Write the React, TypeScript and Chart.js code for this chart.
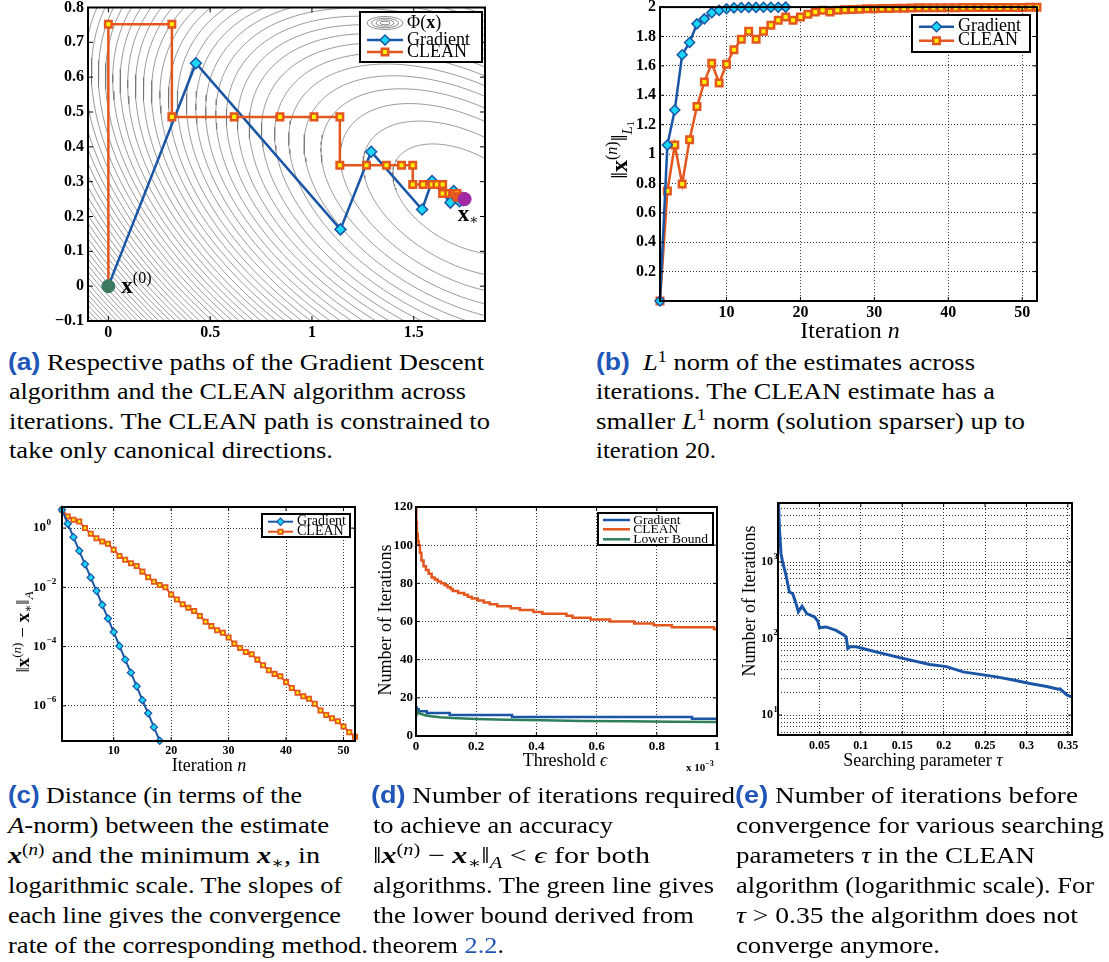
import React, { useEffect, useLayoutEffect, useRef } from 'react';
import { Chart, registerables } from 'chart.js';

Chart.register(...registerables);

// ---------- styling ----------
const SERIF = '"Liberation Serif", "DejaVu Serif", "Times New Roman", serif';
const SANS = '"Liberation Sans", "DejaVu Sans", Arial, sans-serif';
const BLUE = '#1b56a6';
const CYAN = '#1ad6f7';
const ORANGE = '#e3561e';
const YELLOW = '#fff200';
const GREEN_LINE = '#2e7d5b';
const START_GREEN = '#3b7a5e';
const END_PURPLE = '#a02aa6';
const CONTOUR_GRAY = '#6e6e6e';
const GRID = 'rgba(0,0,0,0.8)';
const LINK_BLUE = '#2156b8';

const font = (size: number, style = '') => `${style} ${size}px ${SERIF}`.trim();

// ---------- (a) paths in the plane ----------
const PHI_MATRIX = [
  [1, 0.989],
  [0.989, 4.968],
];
const X_STAR = [1.75, 0.25];
const START = [0, 0];
const CONTOUR_LEVELS = [
  0.05, 0.1, 0.15, 0.2, 0.25, 0.3, 0.35, 0.4, 0.45, 0.5, 0.55, 0.6, 0.65, 0.7, 0.75, 0.8, 0.85, 0.9,
  0.95, 1.0, 1.05, 1.1, 1.15, 1.2, 1.25, 1.3, 1.35, 1.4, 1.45, 1.5, 1.55, 1.6, 1.65, 1.7, 1.75, 1.8,
  1.85, 1.9, 1.95, 2.0, 2.05, 2.1, 2.15, 2.2, 2.25, 2.3, 2.35, 2.4, 2.45, 2.5, 2.55, 2.6, 2.65, 2.7,
];
const GD_PATH_X = [0, 0.43, 1.14, 1.291, 1.541, 1.59, 1.68, 1.696, 1.725, 1.737, 1.742, 1.746, 1.748, 1.749, 1.7495, 1.7498, 1.7499, 1.75];
const GD_PATH_Y = [0, 0.64, 0.163, 0.386, 0.22, 0.302, 0.24, 0.273, 0.244, 0.254, 0.247, 0.2515, 0.2492, 0.2504, 0.2498, 0.2501, 0.25, 0.25];
const CLEAN_PATH_X = [
  0, 0, 0.312, 0.312, 0.618, 0.843, 1.01, 1.137, 1.137, 1.268, 1.366, 1.44, 1.495, 1.495, 1.546, 1.59,
  1.614, 1.642, 1.642, 1.672, 1.69, 1.7, 1.712, 1.712, 1.722, 1.728, 1.733, 1.736, 1.736, 1.739, 1.741,
  1.743, 1.743, 1.745, 1.746, 1.747, 1.747, 1.748, 1.7485, 1.749, 1.749, 1.7493, 1.7495, 1.7497, 1.7497,
  1.7498, 1.7499, 1.7499, 1.7499, 1.75, 1.75, 1.75,
];
const CLEAN_PATH_Y = [
  0, 0.752, 0.752, 0.486, 0.486, 0.486, 0.486, 0.486, 0.347, 0.347, 0.347, 0.347, 0.347, 0.292, 0.292,
  0.292, 0.292, 0.292, 0.266, 0.266, 0.266, 0.266, 0.266, 0.256, 0.256, 0.256, 0.256, 0.256, 0.2535,
  0.2535, 0.2535, 0.2535, 0.2518, 0.2518, 0.2518, 0.2518, 0.2509, 0.2509, 0.2509, 0.2509, 0.2504, 0.2504,
  0.2504, 0.2504, 0.2502, 0.2502, 0.2502, 0.2501, 0.2501, 0.2501, 0.25, 0.25,
];
const A_X_TICKS = [0, 0.5, 1, 1.5];
const A_Y_TICKS = [-0.1, 0, 0.1, 0.2, 0.3, 0.4, 0.5, 0.6, 0.7, 0.8];

// ---------- (b) L1 norm per iteration ----------
const GD_ITER = Array.from({ length: 18 }, (_, i) => i + 1);
const CLEAN_ITER = Array.from({ length: 52 }, (_, i) => i + 1);
const B_GD_L1 = [0, 1.062, 1.3, 1.676, 1.759, 1.886, 1.92, 1.962, 1.978, 1.989, 1.995, 1.997, 1.998, 1.998, 1.999, 1.999, 1.999, 2.0];
const B_CLEAN_L1 = [
  0, 0.749, 1.062, 0.796, 1.098, 1.323, 1.491, 1.618, 1.484, 1.611, 1.71, 1.781, 1.835, 1.781, 1.835,
  1.877, 1.911, 1.933, 1.911, 1.933, 1.951, 1.966, 1.978, 1.966, 1.978, 1.982, 1.984, 1.986, 1.988, 1.989,
  1.99, 1.991, 1.992, 1.993, 1.994, 1.995, 1.995, 1.995, 1.996, 1.996, 1.996, 1.997, 1.997, 1.997, 1.997,
  1.998, 1.998, 1.998, 1.998, 1.998, 1.999, 1.999,
];
const B_X_TICKS = [10, 20, 30, 40, 50];
const B_Y_TICKS = [0.2, 0.4, 0.6, 0.8, 1, 1.2, 1.4, 1.6, 1.8, 2];

// ---------- (c) A-norm distance to the minimum ----------
const C_GD_ERR = [
  4.17, 1.4, 0.495, 0.171, 0.0603, 0.0214, 7.6e-3, 2.57e-3, 8.9e-4, 3.09e-4, 1.05e-4, 3.63e-5, 1.32e-5,
  4.57e-6, 1.55e-6, 5.6e-7, 1.9e-7, 6.6e-8,
];
const C_CLEAN_ERR = [
  4.17, 2.48, 1.91, 1.68, 1.0, 0.646, 0.457, 0.355, 0.295, 0.186, 0.115, 0.0851, 0.0646, 0.0525, 0.0339,
  0.0219, 0.0155, 0.012, 0.01, 5.75e-3, 3.89e-3, 2.69e-3, 2.04e-3, 1.58e-3, 1.07e-3, 6.92e-4, 4.9e-4,
  3.55e-4, 2.95e-4, 2.04e-4, 1.26e-4, 8.91e-5, 6.61e-5, 5.5e-5, 3.63e-5, 2.34e-5, 1.58e-5, 1.2e-5, 1.0e-5,
  6.31e-6, 3.98e-6, 2.75e-6, 2.09e-6, 1.74e-6, 1.17e-6, 6.92e-7, 4.9e-7, 3.8e-7, 3.02e-7, 2.0e-7, 1.29e-7,
  9.1e-8,
];
const C_X_TICKS = [10, 20, 30, 40, 50];
const C_Y_EXP = [0, -2, -4, -6];

// ---------- (d) iterations needed for a threshold (epsilon in units of 1e-3) ----------
const D_GD_EPS = [0, 0.003, 0.009, 0.036, 0.112, 0.319, 0.917, 1.0];
const D_GD_N = [15, 14, 13, 12, 11, 10, 9, 9];
const D_CLEAN_EPS = [
  0, 0.001, 0.003, 0.006, 0.009, 0.013, 0.018, 0.025, 0.033, 0.042, 0.052, 0.062, 0.072, 0.083, 0.095,
  0.105, 0.115, 0.122, 0.14, 0.16, 0.172, 0.185, 0.205, 0.225, 0.245, 0.27, 0.315, 0.345, 0.39, 0.42, 0.5,
  0.52, 0.58, 0.645, 0.725, 0.79, 0.85, 0.99, 1.0,
];
const D_CLEAN_N = [
  120, 112, 106, 102, 100, 96, 92, 89, 87, 85, 83, 82, 81, 80, 79, 78, 77, 76, 75, 74, 73, 72, 71, 70, 69,
  68, 67, 66, 65, 64, 63, 62, 61, 60, 59, 58, 57, 56, 56,
];
const D_LB_EPS = [0.0005, 0.003, 0.008, 0.015, 0.03, 0.05, 0.08, 0.12, 0.2, 0.3, 0.42, 0.55, 0.7, 0.85, 1.0];
const D_LB_N = [14.2, 13.2, 12.3, 11.6, 10.9, 10.3, 9.8, 9.4, 8.9, 8.5, 8.2, 7.9, 7.7, 7.5, 7.3];
const D_X_TICKS = [0, 0.2, 0.4, 0.6, 0.8, 1];
const D_Y_TICKS = [0, 20, 40, 60, 80, 100, 120];

// ---------- (e) iterations versus searching parameter ----------
const E_TAU = [
  0.0005, 0.0016, 0.0036, 0.0056, 0.0097, 0.0137, 0.0177, 0.0197, 0.0218, 0.0246, 0.029, 0.0347, 0.044,
  0.048, 0.05, 0.058, 0.0702, 0.0803, 0.0823, 0.0843, 0.0872, 0.0944, 0.1105, 0.1429, 0.1832, 0.2034,
  0.2235, 0.2639, 0.284, 0.3042, 0.3245, 0.3385, 0.3406, 0.3487, 0.3547,
];
const E_ITER = [
  6500, 2860, 1284, 1000, 670, 406, 387, 333, 286, 223, 264, 212, 192, 170, 139, 142, 128, 110, 105, 74,
  78, 78, 70.5, 57.7, 45.8, 43, 36.7, 31.6, 28.8, 25.9, 23.6, 21.8, 22, 18.4, 17.3,
];
const E_X_TICKS = [0.05, 0.1, 0.15, 0.2, 0.25, 0.3, 0.35];
const E_Y_GRID = [6, 7, 8, 9, 10, 20, 30, 40, 50, 60, 70, 80, 90, 100, 200, 300, 400, 500, 600, 700, 800, 900, 1000, 2000, 3000, 4000, 5000];
const E_Y_EXP = [1, 2, 3];

// ---------- helpers ----------
type Pt = { x: number; y: number };
type Seg = { t: string; font: string; dy?: number };

const zip = (xs: number[], ys: number[]): Pt[] => xs.map((x, i) => ({ x, y: ys[i] }));

const fmtNum = (v: number) => {
  const s = String(Math.round(v * 1000) / 1000);
  return s.startsWith('-') ? '\u2212' + s.slice(1) : s;
};

// level set of 0.5 (x - x*)^T A (x - x*) = level
function ellipsePoints(level: number): Pt[] {
  const [[a, b], [, d]] = PHI_MATRIX;
  const half = (a + d) / 2;
  const disc = Math.sqrt(half * half - (a * d - b * b));
  const l1 = half + disc;
  const l2 = half - disc;
  const n = Math.hypot(b, l1 - a);
  const u = [b / n, (l1 - a) / n];
  const v = [-u[1], u[0]];
  const r1 = Math.sqrt((2 * level) / l1);
  const r2 = Math.sqrt((2 * level) / l2);
  const pts: Pt[] = [];
  for (let k = 0; k <= 180; k++) {
    const t = (k / 180) * 2 * Math.PI;
    const c = Math.cos(t) * r1;
    const s = Math.sin(t) * r2;
    pts.push({ x: X_STAR[0] + c * u[0] + s * v[0], y: X_STAR[1] + c * u[1] + s * v[1] });
  }
  return pts;
}

function segsWidth(ctx: CanvasRenderingContext2D, segs: Seg[]) {
  let w = 0;
  for (const s of segs) {
    ctx.font = s.font;
    w += ctx.measureText(s.t).width;
  }
  return w;
}

function drawSegs(ctx: CanvasRenderingContext2D, segs: Seg[], x: number, y: number, align = 'left') {
  const w = segsWidth(ctx, segs);
  let cx = align === 'center' ? x - w / 2 : align === 'right' ? x - w : x;
  ctx.textAlign = 'left';
  ctx.fillStyle = '#000';
  for (const s of segs) {
    ctx.font = s.font;
    ctx.fillText(s.t, cx, y + (s.dy || 0));
    cx += ctx.measureText(s.t).width;
  }
}

function drawSegsUp(ctx: CanvasRenderingContext2D, segs: Seg[], baseX: number, centerY: number) {
  ctx.save();
  ctx.translate(baseX, centerY);
  ctx.rotate(-Math.PI / 2);
  ctx.textBaseline = 'alphabetic';
  drawSegs(ctx, segs, 0, 0, 'center');
  ctx.restore();
}

function pow10(ctx: CanvasRenderingContext2D, xRight: number, y: number, exp: number, size: number) {
  ctx.fillStyle = '#000';
  ctx.textBaseline = 'middle';
  ctx.textAlign = 'right';
  ctx.font = font(size, 'bold');
  ctx.fillText('10', xRight, y);
  ctx.textAlign = 'left';
  ctx.font = font(size * 0.7, 'bold');
  ctx.fillText(exp < 0 ? '\u2212' + -exp : String(exp), xRight + 0.5, y - size * 0.45);
}

function marker(ctx: CanvasRenderingContext2D, kind: string, x: number, y: number, r: number, fill: string, stroke: string, lw: number) {
  ctx.save();
  ctx.beginPath();
  if (kind === 'diamond') {
    ctx.moveTo(x - r, y);
    ctx.lineTo(x, y - r);
    ctx.lineTo(x + r, y);
    ctx.lineTo(x, y + r);
    ctx.closePath();
  } else {
    const s = r * Math.SQRT1_2;
    ctx.rect(x - s, y - s, 2 * s, 2 * s);
  }
  ctx.fillStyle = fill;
  ctx.fill();
  ctx.lineWidth = lw;
  ctx.strokeStyle = stroke;
  ctx.stroke();
  ctx.restore();
}

function legendFrame(ctx: CanvasRenderingContext2D, x: number, y: number, w: number, h: number) {
  ctx.save();
  ctx.fillStyle = '#fff';
  ctx.fillRect(x, y, w, h);
  ctx.lineWidth = 2;
  ctx.strokeStyle = '#000';
  ctx.strokeRect(x, y, w, h);
  ctx.restore();
}

function lineIcon(ctx: CanvasRenderingContext2D, x0: number, x1: number, y: number, color: string, lw: number) {
  ctx.save();
  ctx.strokeStyle = color;
  ctx.lineWidth = lw;
  ctx.beginPath();
  ctx.moveTo(x0, y);
  ctx.lineTo(x1, y);
  ctx.stroke();
  ctx.restore();
}

function contourIcon(ctx: CanvasRenderingContext2D, cx: number, cy: number) {
  ctx.save();
  ctx.strokeStyle = CONTOUR_GRAY;
  ctx.lineWidth = 0.8;
  for (const [rx, ry] of [[18, 6.5], [13.5, 4.8], [9, 3.2], [5, 1.8]]) {
    ctx.beginPath();
    ctx.ellipse(cx, cy, rx, ry, 0, 0, 2 * Math.PI);
    ctx.stroke();
  }
  ctx.restore();
}

function legendText(ctx: CanvasRenderingContext2D, segs: Seg[], x: number, y: number) {
  ctx.save();
  ctx.textBaseline = 'middle';
  drawSegs(ctx, segs, x, y);
  ctx.restore();
}

// axis box, inward ticks and any extra drawing on top of the datasets
function decor(tickLen: number, draw: (chart: any, ctx: CanvasRenderingContext2D) => void, yTickValues?: number[]) {
  return {
    id: 'decor',
    afterDatasetsDraw(chart: any) {
      const { ctx, chartArea: a, scales } = chart;
      ctx.save();
      ctx.strokeStyle = '#000';
      ctx.lineWidth = 1;
      ctx.beginPath();
      for (const t of scales.x.ticks) {
        const p = scales.x.getPixelForValue(t.value);
        ctx.moveTo(p, a.bottom);
        ctx.lineTo(p, a.bottom - tickLen);
        ctx.moveTo(p, a.top);
        ctx.lineTo(p, a.top + tickLen);
      }
      const yv = yTickValues ?? scales.y.ticks.map((t: any) => t.value);
      for (const v of yv) {
        const p = scales.y.getPixelForValue(v);
        ctx.moveTo(a.left, p);
        ctx.lineTo(a.left + tickLen, p);
        ctx.moveTo(a.right, p);
        ctx.lineTo(a.right - tickLen, p);
      }
      ctx.stroke();
      ctx.lineWidth = 2;
      ctx.strokeRect(a.left, a.top, a.right - a.left, a.bottom - a.top);
      ctx.restore();
      ctx.save();
      draw(chart, ctx);
      ctx.restore();
    },
  };
}

function axis(o: {
  type?: string; min: number; max: number; ticks: number[]; side: 'x' | 'y'; size: number;
  fontSize: number; pad: number; grid: boolean; labels?: boolean;
}) {
  return {
    type: o.type ?? 'linear',
    position: o.side === 'x' ? 'bottom' : 'left',
    min: o.min,
    max: o.max,
    afterBuildTicks: (s: any) => {
      s.ticks = o.ticks.map((v) => ({ value: v }));
    },
    afterFit: (s: any) => {
      if (o.side === 'x') s.height = o.size;
      else s.width = o.size;
      s.paddingLeft = 0;
      s.paddingRight = 0;
      s.paddingTop = 0;
      s.paddingBottom = 0;
    },
    ticks: {
      display: o.labels !== false,
      autoSkip: false,
      maxRotation: 0,
      minRotation: 0,
      padding: o.pad,
      color: '#000',
      font: { family: SERIF, size: o.fontSize, weight: 'bold' },
      callback: (v: number) => fmtNum(v),
    },
    grid: { display: o.grid, color: GRID, lineWidth: 1, drawTicks: false },
    border: { display: false, dash: [1, 2] },
  };
}

function base(W: number, T: number, R: number, scales: any) {
  return {
    responsive: false,
    animation: false,
    events: [],
    layout: { padding: { left: 0, top: T, right: W - R, bottom: 0 } },
    plugins: { legend: { display: false }, tooltip: { enabled: false } },
    scales,
  };
}

const gradientStyle = (r: number, bw: number, lw: number) => ({
  showLine: true,
  borderColor: BLUE,
  borderWidth: lw,
  pointStyle: 'rectRot',
  pointRadius: r,
  pointBackgroundColor: CYAN,
  pointBorderColor: BLUE,
  pointBorderWidth: bw,
});

const cleanStyle = (r: number, bw: number, lw: number) => ({
  showLine: true,
  borderColor: ORANGE,
  borderWidth: lw,
  pointStyle: 'rect',
  pointRadius: r,
  pointBackgroundColor: YELLOW,
  pointBorderColor: ORANGE,
  pointBorderWidth: bw,
});

// ---------- chart builders ----------
function makePathChart() {
  const W = 500, H = 345, L = 88, T = 7, R = 485, B = 321;
  const contours = CONTOUR_LEVELS.map((lv) => ({
    data: ellipsePoints(lv),
    showLine: true,
    borderColor: CONTOUR_GRAY,
    borderWidth: 0.7,
    pointRadius: 0,
    order: 20,
  }));
  return {
    type: 'scatter',
    data: {
      datasets: [
        ...contours,
        { data: zip(GD_PATH_X, GD_PATH_Y), ...gradientStyle(5.5, 1.5, 2.5), order: 3 },
        { data: zip(CLEAN_PATH_X, CLEAN_PATH_Y), ...cleanStyle(4.6, 2.5, 2.5), order: 2 },
        { data: [{ x: START[0], y: START[1] }], pointRadius: 6.5, pointBackgroundColor: START_GREEN, pointBorderColor: START_GREEN, order: 1 },
        { data: [{ x: X_STAR[0], y: X_STAR[1] }], pointRadius: 6.5, pointBackgroundColor: END_PURPLE, pointBorderColor: END_PURPLE, order: 1 },
      ],
    },
    options: base(W, T, R, {
      x: axis({ min: -0.1, max: 1.85, ticks: A_X_TICKS, side: 'x', size: H - B, fontSize: 16, pad: 2, grid: false }),
      y: axis({ min: -0.1, max: 0.8, ticks: A_Y_TICKS, side: 'y', size: L, fontSize: 16, pad: 4, grid: false }),
    }),
    plugins: [
      decor(5, (chart, ctx) => {
        const xs = chart.scales.x;
        const ys = chart.scales.y;
        legendFrame(ctx, 360, 12, 122, 50);
        contourIcon(ctx, 385, 23);
        lineIcon(ctx, 367, 403, 40, BLUE, 2.5);
        marker(ctx, 'diamond', 385, 40, 5, CYAN, BLUE, 1.5);
        lineIcon(ctx, 367, 403, 52, ORANGE, 2.5);
        marker(ctx, 'square', 385, 52, 4.6, YELLOW, ORANGE, 2.5);
        legendText(ctx, [{ t: '\u03A6(', font: font(18) }, { t: 'x', font: font(18, 'bold') }, { t: ')', font: font(18) }], 407, 23);
        legendText(ctx, [{ t: 'Gradient', font: font(18) }], 407, 40);
        legendText(ctx, [{ t: 'CLEAN', font: font(18) }], 407, 52);

        ctx.textBaseline = 'alphabetic';
        const sx = xs.getPixelForValue(START[0]);
        const sy = ys.getPixelForValue(START[1]);
        drawSegs(ctx, [{ t: 'x', font: font(23, 'bold') }, { t: '(0)', font: font(16), dy: -10 }], sx + 13, sy + 7);
        const ex = xs.getPixelForValue(X_STAR[0]);
        const ey = ys.getPixelForValue(X_STAR[1]);
        drawSegs(ctx, [{ t: 'x', font: font(23, 'bold') }, { t: '\u2217', font: font(14), dy: 3 }], ex - 7, ey + 22);
      }),
    ],
  };
}

function makeNormChart() {
  const W = 480, H = 345, L = 80, T = 4, R = 457, B = 301;
  return {
    type: 'scatter',
    data: {
      datasets: [
        { data: zip(GD_ITER, B_GD_L1), ...gradientStyle(5, 1.5, 2.5), clip: false, order: 1 },
        { data: zip(CLEAN_ITER, B_CLEAN_L1), ...cleanStyle(4.6, 2.5, 2.5), clip: false, order: 2 },
      ],
    },
    options: base(W, T, R, {
      x: axis({ min: 1, max: 52, ticks: B_X_TICKS, side: 'x', size: H - B, fontSize: 16, pad: 2, grid: true }),
      y: axis({ min: 0, max: 2, ticks: B_Y_TICKS, side: 'y', size: L, fontSize: 16, pad: 4, grid: true }),
    }),
    plugins: [
      decor(4, (chart, ctx) => {
        legendFrame(ctx, 332, 15, 118, 37);
        lineIcon(ctx, 339, 374, 26.7, BLUE, 2.5);
        marker(ctx, 'diamond', 356.5, 26.7, 5, CYAN, BLUE, 1.5);
        lineIcon(ctx, 339, 374, 40.7, ORANGE, 2.5);
        marker(ctx, 'square', 356.5, 40.7, 4.6, YELLOW, ORANGE, 2.5);
        legendText(ctx, [{ t: 'Gradient', font: font(18) }], 378, 26.7);
        legendText(ctx, [{ t: 'CLEAN', font: font(18) }], 378, 40.7);
        ctx.textBaseline = 'alphabetic';
        drawSegs(ctx, [{ t: 'Iteration ', font: font(24) }, { t: 'n', font: font(24, 'italic') }], 270, 338, 'center');
        drawSegsUp(
          ctx,
          [
            { t: '\u2016', font: font(24) },
            { t: 'x', font: font(24, 'bold') },
            { t: '(', font: font(16), dy: -10 },
            { t: 'n', font: font(16, 'italic'), dy: -10 },
            { t: ')', font: font(16), dy: -10 },
            { t: '\u2016', font: font(24) },
            { t: 'L', font: font(15, 'italic'), dy: 5 },
            { t: '1', font: font(10), dy: 7 },
          ],
          47,
          150,
        );
      }),
    ],
  };
}

function makeErrorChart() {
  const W = 370, H = 275, L = 62, T = 7, R = 355, B = 241;
  return {
    type: 'scatter',
    data: {
      datasets: [
        { data: zip(GD_ITER, C_GD_ERR), ...gradientStyle(3.6, 1.2, 2), clip: false, order: 1 },
        { data: zip(CLEAN_ITER, C_CLEAN_ERR), ...cleanStyle(3, 1.8, 2), clip: false, order: 2 },
      ],
    },
    options: base(W, T, R, {
      x: axis({ min: 1, max: 52, ticks: C_X_TICKS, side: 'x', size: H - B, fontSize: 12, pad: 3, grid: true }),
      y: axis({ type: 'logarithmic', min: 6.5e-8, max: 5.15, ticks: C_Y_EXP.map((e) => 10 ** e), side: 'y', size: L, fontSize: 12, pad: 4, grid: true, labels: false }),
    }),
    plugins: [
      decor(4, (chart, ctx) => {
        const ys = chart.scales.y;
        for (const e of C_Y_EXP) pow10(ctx, 46, ys.getPixelForValue(10 ** e), e, 13);
        legendFrame(ctx, 262, 14, 88, 23);
        lineIcon(ctx, 268, 293, 21.7, BLUE, 2);
        marker(ctx, 'diamond', 280.5, 21.7, 3.6, CYAN, BLUE, 1.2);
        lineIcon(ctx, 268, 293, 31.7, ORANGE, 2);
        marker(ctx, 'square', 280.5, 31.7, 3, YELLOW, ORANGE, 1.8);
        legendText(ctx, [{ t: 'Gradient', font: font(14) }], 297, 21.7);
        legendText(ctx, [{ t: 'CLEAN', font: font(14) }], 297, 31.7);
        ctx.textBaseline = 'alphabetic';
        drawSegs(ctx, [{ t: 'Iteration ', font: font(18) }, { t: 'n', font: font(18, 'italic') }], 209, 271, 'center');
        drawSegsUp(
          ctx,
          [
            { t: '\u2016', font: font(19) },
            { t: 'x', font: font(19, 'bold') },
            { t: '(', font: font(13), dy: -8 },
            { t: 'n', font: font(13, 'italic'), dy: -8 },
            { t: ')', font: font(13), dy: -8 },
            { t: ' \u2212 ', font: font(19) },
            { t: 'x', font: font(19, 'bold') },
            { t: '\u2217', font: font(12), dy: 3 },
            { t: '\u2016', font: font(19) },
            { t: 'A', font: font(13, 'italic'), dy: 4 },
          ],
          29,
          132,
        );
      }),
    ],
  };
}

function makeThresholdChart() {
  const W = 370, H = 275, L = 51, T = 7, R = 352, B = 236;
  return {
    type: 'scatter',
    data: {
      datasets: [
        { data: zip(D_GD_EPS, D_GD_N), showLine: true, stepped: true, borderColor: BLUE, borderWidth: 2.5, pointRadius: 0, order: 2 },
        { data: zip(D_CLEAN_EPS, D_CLEAN_N), showLine: true, stepped: true, borderColor: ORANGE, borderWidth: 2.5, pointRadius: 0, order: 1 },
        { data: zip(D_LB_EPS, D_LB_N), showLine: true, borderColor: GREEN_LINE, borderWidth: 2.5, pointRadius: 0, order: 0 },
      ],
    },
    options: base(W, T, R, {
      x: axis({ min: 0, max: 1, ticks: D_X_TICKS, side: 'x', size: H - B, fontSize: 13, pad: 3, grid: true }),
      y: axis({ min: 0, max: 120, ticks: D_Y_TICKS, side: 'y', size: L, fontSize: 13, pad: 3, grid: true }),
    }),
    plugins: [
      decor(4, (chart, ctx) => {
        legendFrame(ctx, 233, 13, 115, 32);
        lineIcon(ctx, 238, 265, 20, BLUE, 2.5);
        lineIcon(ctx, 238, 265, 29.3, ORANGE, 2.5);
        lineIcon(ctx, 238, 265, 39.3, GREEN_LINE, 2.5);
        legendText(ctx, [{ t: 'Gradient', font: font(13.5) }], 268.3, 20);
        legendText(ctx, [{ t: 'CLEAN', font: font(13.5) }], 268.3, 29.3);
        legendText(ctx, [{ t: 'Lower Bound', font: font(13.5) }], 268.3, 39.3);
        ctx.textBaseline = 'alphabetic';
        drawSegs(ctx, [{ t: 'Threshold ', font: font(18) }, { t: '\u03F5', font: font(18, 'italic') }], 200, 266, 'center');
        drawSegs(ctx, [{ t: 'x 10', font: font(11, 'bold') }, { t: '\u22123', font: font(8, 'bold'), dy: -5 }], 321, 271);
        drawSegsUp(ctx, [{ t: 'Number of Iterations', font: font(18) }], 26, 120);
      }),
    ],
  };
}

function makeTauChart() {
  const W = 379, H = 275, L = 48, T = 3, R = 342, B = 235;
  return {
    type: 'scatter',
    data: {
      datasets: [{ data: zip(E_TAU, E_ITER), showLine: true, borderColor: BLUE, borderWidth: 3, pointRadius: 0 }],
    },
    options: base(W, T, R, {
      x: axis({ min: 0, max: 0.355, ticks: E_X_TICKS, side: 'x', size: H - B, fontSize: 12, pad: 4, grid: true }),
      y: axis({ type: 'logarithmic', min: 5.5, max: 5900, ticks: E_Y_GRID, side: 'y', size: L, fontSize: 12, pad: 4, grid: true, labels: false }),
    }),
    plugins: [
      decor(
        4,
        (chart, ctx) => {
          const ys = chart.scales.y;
          for (const e of E_Y_EXP) pow10(ctx, 43, ys.getPixelForValue(10 ** e), e, 12);
          ctx.textBaseline = 'alphabetic';
          drawSegs(ctx, [{ t: 'Searching parameter ', font: font(18) }, { t: '\u03C4', font: font(18, 'italic') }], 193, 266, 'center');
          drawSegsUp(ctx, [{ t: 'Number of Iterations', font: font(18) }], 25, 101);
        },
        E_Y_EXP.map((e) => 10 ** e),
      ),
    ],
  };
}

// ---------- components ----------
function ChartBox({ left, top, width, height, make }: { left: number; top: number; width: number; height: number; make: () => any }) {
  const ref = useRef<HTMLCanvasElement>(null);
  useEffect(() => {
    const chart = new Chart(ref.current as HTMLCanvasElement, make());
    return () => chart.destroy();
  }, []);
  return <canvas ref={ref} width={width} height={height} style={{ position: 'absolute', left, top, width, height }} />;
}

const CAP_SIZE = 23.5;

// one caption line, stretched to the width of its column
function FitLine({ x, base, right, children }: { x: number; base: number; right: number; children: any }) {
  const ref = useRef<HTMLDivElement>(null);
  useLayoutEffect(() => {
    const el = ref.current as HTMLDivElement;
    const fit = () => {
      el.style.transform = 'none';
      const w = el.getBoundingClientRect().width;
      if (w > 0) el.style.transform = `scaleX(${(right - x) / w})`;
    };
    fit();
    if ((document as any).fonts) (document as any).fonts.ready.then(fit);
  }, []);
  return (
    <div
      ref={ref}
      style={{
        position: 'absolute',
        left: x,
        top: base - 0.8375 * CAP_SIZE,
        fontFamily: SERIF,
        fontSize: CAP_SIZE,
        lineHeight: `${CAP_SIZE}px`,
        whiteSpace: 'nowrap',
        transformOrigin: '0 0',
        color: '#000',
      }}
    >
      {children}
    </div>
  );
}

const Tag = ({ c }: { c: string }) => (
  <span style={{ fontFamily: SANS, fontWeight: 700, color: LINK_BLUE }}>({c})</span>
);
const Sup = ({ children }: { children: any }) => (
  <span style={{ fontSize: '0.68em', position: 'relative', top: '-0.55em' }}>{children}</span>
);
const Sub = ({ children }: { children: any }) => (
  <span style={{ fontSize: '0.68em', position: 'relative', top: '0.3em' }}>{children}</span>
);
const BX = () => (
  <b>
    <i>x</i>
  </b>
);

const TOP_BASE = [371, 400, 429.5, 459];
const BOT_BASE = [804, 834, 864, 894, 924, 954];

export default function App() {
  return (
    <div style={{ position: 'absolute', left: 0, top: 0, width: 1109, height: 962, background: '#fff', overflow: 'hidden' }}>
      <ChartBox left={0} top={0} width={500} height={345} make={makePathChart} />
      <ChartBox left={580} top={0} width={480} height={345} make={makeNormChart} />
      <ChartBox left={0} top={500} width={370} height={275} make={makeErrorChart} />
      <ChartBox left={365} top={500} width={370} height={275} make={makeThresholdChart} />
      <ChartBox left={730} top={500} width={379} height={275} make={makeTauChart} />

      <FitLine x={8} base={TOP_BASE[0]} right={484}>
        <Tag c="a" /> Respective paths of the Gradient Descent
      </FitLine>
      <FitLine x={9} base={TOP_BASE[1]} right={466}>algorithm and the CLEAN algorithm across</FitLine>
      <FitLine x={9} base={TOP_BASE[2]} right={490}>iterations. The CLEAN path is constrained to</FitLine>
      <FitLine x={9} base={TOP_BASE[3]} right={333}>take only canonical directions.</FitLine>

      <FitLine x={596} base={TOP_BASE[0]} right={975}>
        <Tag c="b" />{'\u00A0 '}<i>L</i>
        <Sup>1</Sup> norm of the estimates across
      </FitLine>
      <FitLine x={596} base={TOP_BASE[1]} right={995}>iterations. The CLEAN estimate has a</FitLine>
      <FitLine x={596} base={TOP_BASE[2]} right={1025}>
        smaller <i>L</i>
        <Sup>1</Sup> norm (solution sparser) up to
      </FitLine>
      <FitLine x={596} base={TOP_BASE[3]} right={716}>iteration 20.</FitLine>

      <FitLine x={8} base={BOT_BASE[0]} right={302}>
        <Tag c="c" /> Distance (in terms of the
      </FitLine>
      <FitLine x={8} base={BOT_BASE[1]} right={329}>
        <i>A</i>-norm) between the estimate
      </FitLine>
      <FitLine x={8} base={BOT_BASE[2]} right={320}>
        <BX />
        <Sup>
          (<i>n</i>)
        </Sup>{' '}
        and the minimum <BX />
        <Sub>{'\u2217'}</Sub>, in
      </FitLine>
      <FitLine x={8} base={BOT_BASE[3]} right={342}>logarithmic scale. The slopes of</FitLine>
      <FitLine x={8} base={BOT_BASE[4]} right={341}>each line gives the convergence</FitLine>
      <FitLine x={8} base={BOT_BASE[5]} right={368}>rate of the corresponding method.</FitLine>

      <FitLine x={371} base={BOT_BASE[0]} right={735}>
        <Tag c="d" /> Number of iterations required
      </FitLine>
      <FitLine x={373} base={BOT_BASE[1]} right={613}>to achieve an accuracy</FitLine>
      <FitLine x={373} base={BOT_BASE[2]} right={650}>
        {'\u2016'}
        <BX />
        <Sup>
          (<i>n</i>)
        </Sup>{' \u2212 '}
        <BX />
        <Sub>{'\u2217'}</Sub>
        {'\u2016'}
        <Sub>
          <i>A</i>
        </Sub>{' < '}
        <i>{'\u03F5'}</i> for both
      </FitLine>
      <FitLine x={373} base={BOT_BASE[3]} right={714}>algorithms. The green line gives</FitLine>
      <FitLine x={373} base={BOT_BASE[4]} right={694}>the lower bound derived from</FitLine>
      <FitLine x={372} base={BOT_BASE[5]} right={504}>
        theorem <span style={{ color: LINK_BLUE }}>2.2</span>.
      </FitLine>

      <FitLine x={735} base={BOT_BASE[0]} right={1078}>
        <Tag c="e" /> Number of iterations before
      </FitLine>
      <FitLine x={736} base={BOT_BASE[1]} right={1104}>convergence for various searching</FitLine>
      <FitLine x={736} base={BOT_BASE[2]} right={1035}>
        parameters <i>{'\u03C4'}</i> in the CLEAN
      </FitLine>
      <FitLine x={736} base={BOT_BASE[3]} right={1094}>algorithm (logarithmic scale). For</FitLine>
      <FitLine x={736} base={BOT_BASE[4]} right={1078}>
        <i>{'\u03C4'}</i> &gt; 0.35 the algorithm does not
      </FitLine>
      <FitLine x={736} base={BOT_BASE[5]} right={940}>converge anymore.</FitLine>
    </div>
  );
}
